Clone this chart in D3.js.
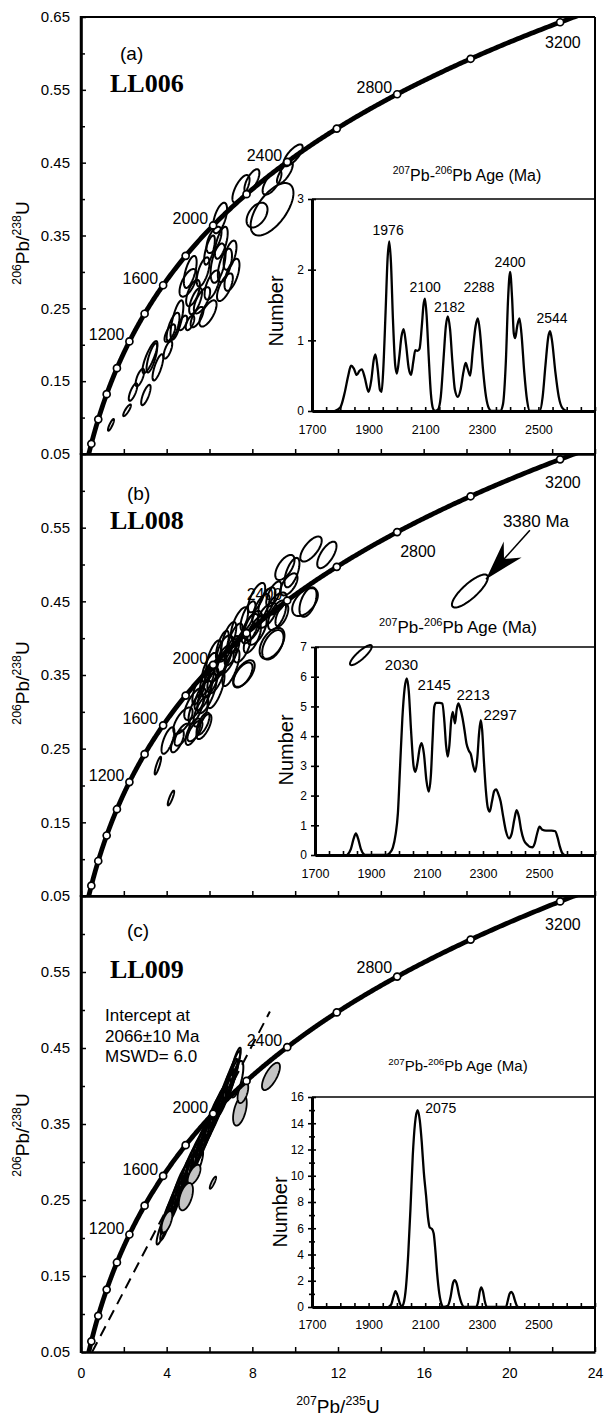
<!DOCTYPE html>
<html><head><meta charset="utf-8">
<script src="https://cdn.jsdelivr.net/npm/d3@7"></script>
<style>body{margin:0;background:#fff}svg{display:block}</style>
</head><body><svg id="chart" width="604" height="1416"></svg>
<script>
// ================= DATA =================
const yTickValues = [0.05, 0.15, 0.25, 0.35, 0.45, 0.55, 0.65];
const yMinorValues = [0.1, 0.2, 0.3, 0.4, 0.5, 0.6];
const xTickValues = [0, 4, 8, 12, 16, 20, 24];
const xMinorValues = [2, 6, 10, 14, 18, 22];
const markerAges = [400, 600, 800, 1000, 1200, 1400, 1600, 1800, 2000, 2200, 2400, 2600, 2800, 3000, 3200];
const labelAges = [1200, 1600, 2000, 2400, 2800, 3200];
const lambda238 = 1.55125e-10, lambda235 = 9.8485e-10;
const insetXLabels = [1700, 1900, 2100, 2300, 2500];

// ellipses: [207Pb/235U, 206Pb/238U, half-range x, half-range y, rho]
const ellipsesA = [
  [9.90,0.460,0.45,0.015,0.75],[9.52,0.436,0.37,0.015,0.75],[7.47,0.414,0.40,0.019,0.68],
  [7.98,0.425,0.35,0.016,0.68],[8.92,0.386,1.00,0.036,0.62],[8.22,0.378,0.49,0.017,0.45],
  [8.92,0.423,0.44,0.017,0.68],[6.49,0.374,0.33,0.021,0.58],[6.21,0.344,0.35,0.018,0.58],
  [6.40,0.312,0.35,0.027,0.50],[6.72,0.309,0.33,0.023,0.58],[6.72,0.279,0.37,0.019,0.68],
  [5.00,0.285,0.40,0.019,0.62],[5.23,0.271,0.32,0.018,0.62],[5.65,0.261,0.38,0.018,0.68],
  [5.93,0.243,0.40,0.018,0.68],[5.42,0.238,0.30,0.014,0.68],[4.48,0.234,0.30,0.027,0.70],
  [4.30,0.224,0.30,0.020,0.68],[4.76,0.230,0.20,0.010,0.60],[5.09,0.230,0.20,0.010,0.60],
  [4.15,0.216,0.25,0.012,0.68],[3.22,0.183,0.35,0.022,0.82],[3.31,0.182,0.25,0.020,0.75],
  [3.59,0.169,0.25,0.018,0.75],[4.06,0.193,0.20,0.012,0.68],[2.75,0.155,0.20,0.012,0.70],
  [2.43,0.135,0.20,0.012,0.75],[3.03,0.131,0.22,0.014,0.75],[2.15,0.110,0.18,0.008,0.85],
  [1.40,0.090,0.14,0.008,0.85],[6.96,0.323,0.30,0.020,0.58],[7.05,0.296,0.35,0.022,0.62],
  [6.12,0.282,0.35,0.020,0.62],[5.70,0.300,0.30,0.020,0.62],[6.00,0.330,0.25,0.020,0.68],
  [5.35,0.260,0.30,0.018,0.68],[5.10,0.300,0.30,0.022,0.62],[6.55,0.340,0.30,0.022,0.62]
];
const ellipsesB = [
  [6.72,0.386,0.37,0.018,0.6],[7.61,0.352,0.50,0.018,0.6],[5.74,0.280,0.35,0.017,0.68],
  [8.92,0.393,0.58,0.021,0.5],[10.46,0.449,0.60,0.019,0.5],[9.52,0.496,0.45,0.017,0.6],
  [9.71,0.473,0.40,0.015,0.6],[10.74,0.521,0.50,0.017,0.68],[11.48,0.513,0.45,0.018,0.68],
  [8.68,0.449,0.40,0.020,0.62],[9.15,0.431,0.42,0.020,0.6],[9.38,0.431,0.30,0.015,0.6],
  [8.03,0.417,0.42,0.020,0.6],[7.89,0.413,0.40,0.020,0.62],[7.05,0.383,0.35,0.020,0.68],
  [6.35,0.352,0.45,0.027,0.7],[5.88,0.325,0.45,0.027,0.7],[5.32,0.311,0.50,0.022,0.68],
  [4.76,0.288,0.45,0.018,0.68],[5.32,0.274,0.35,0.014,0.68],[4.06,0.261,0.30,0.018,0.68],
  [4.72,0.269,0.35,0.015,0.68],[5.23,0.273,0.35,0.018,0.68],[5.70,0.284,0.30,0.015,0.68],
  [5.37,0.304,0.35,0.020,0.68],[5.70,0.322,0.40,0.020,0.68],[6.02,0.340,0.40,0.020,0.68],
  [6.35,0.356,0.40,0.015,0.68],[6.63,0.370,0.40,0.020,0.68],[7.56,0.350,0.45,0.017,0.6],
  [7.52,0.387,0.40,0.020,0.62],[8.22,0.411,0.45,0.020,0.62],[8.68,0.431,0.45,0.017,0.62],
  [9.15,0.447,0.45,0.015,0.62],[8.96,0.391,0.50,0.020,0.5],[9.85,0.489,0.35,0.020,0.62],
  [3.59,0.227,0.15,0.012,0.85],[4.20,0.183,0.15,0.010,0.85],[10.60,0.449,0.40,0.020,0.5],
  [6.00,0.360,0.35,0.020,0.68],[6.60,0.390,0.30,0.020,0.68],[7.20,0.400,0.35,0.020,0.68],
  [7.00,0.360,0.40,0.025,0.72],[6.30,0.330,0.40,0.025,0.72],[5.60,0.300,0.35,0.020,0.68],
  [4.50,0.260,0.30,0.015,0.68],[7.80,0.430,0.35,0.020,0.68],[8.40,0.440,0.40,0.020,0.68],
  [9.00,0.460,0.35,0.017,0.68],[8.00,0.400,0.40,0.020,0.68],[6.80,0.370,0.45,0.020,0.68],
  [6.20,0.375,0.35,0.022,0.68],[6.90,0.400,0.35,0.022,0.68],[7.40,0.420,0.40,0.022,0.68],
  [5.90,0.345,0.35,0.022,0.7],[5.50,0.330,0.30,0.020,0.7],[8.20,0.455,0.40,0.020,0.68],
  [13.07,0.377,0.51,0.0136,0.86],[18.16,0.464,0.84,0.0224,0.82]
];
const ellipsesC = [
  [3.83,0.2135,0.30,0.022,0.88],[4.06,0.2306,0.35,0.025,0.88],[4.25,0.2438,0.35,0.025,0.88],
  [4.44,0.2570,0.35,0.025,0.88],[4.62,0.2702,0.35,0.025,0.88],[4.86,0.2834,0.35,0.025,0.88],
  [5.09,0.2966,0.40,0.027,0.88],[5.32,0.3098,0.40,0.027,0.88],[5.56,0.3230,0.40,0.027,0.88],
  [5.79,0.3361,0.40,0.027,0.88],[6.02,0.3493,0.40,0.027,0.88],[6.21,0.3625,0.40,0.027,0.88],
  [6.40,0.3731,0.40,0.027,0.88],[6.58,0.3823,0.40,0.027,0.88],[6.77,0.3955,0.35,0.027,0.88],
  [6.96,0.4087,0.35,0.027,0.88],[7.14,0.4219,0.30,0.024,0.88],[7.24,0.4324,0.22,0.018,0.85],
  [3.98,0.2170,0.28,0.020,0.9],[4.20,0.2350,0.30,0.022,0.9],[4.55,0.2580,0.30,0.022,0.9],
  [4.95,0.2820,0.30,0.022,0.9],[5.45,0.3100,0.35,0.024,0.9],[5.90,0.3380,0.35,0.024,0.9],
  [6.30,0.3620,0.35,0.024,0.9],[6.70,0.3850,0.33,0.024,0.9],[7.05,0.4100,0.30,0.024,0.9],
  [4.40,0.2450,0.30,0.022,0.9],[5.20,0.2950,0.35,0.024,0.9],[5.70,0.3250,0.35,0.024,0.9],
  [6.10,0.3500,0.35,0.024,0.9],[6.50,0.3750,0.35,0.024,0.9],[6.90,0.3980,0.33,0.024,0.9],
  [7.28,0.4090,0.30,0.024,0.65],[5.32,0.2970,0.38,0.022,0.7]
];
const ellipsesCGrey = [
  [8.87,0.4126,0.42,0.018,0.7],[7.42,0.3678,0.32,0.020,0.5],[7.56,0.3915,0.25,0.014,0.5],
  [5.28,0.2834,0.30,0.013,0.6],[4.90,0.2544,0.33,0.018,0.5],[6.16,0.2728,0.15,0.008,0.85],
  [4.01,0.2214,0.25,0.014,0.6]
];
// discordia (dashed) end points in data units
const discordiaC = [[0.52, 0.05], [8.82, 0.498]];

// 207Pb-206Pb age probability curves: [age (Ma), number]
const pdfA = [[1780,0],[1800,0.05],[1815,0.25],[1828,0.5],[1838,0.64],[1848,0.6],[1858,0.51],[1868,0.57],[1876,0.59],[1886,0.48],[1900,0.27],[1910,0.45],[1918,0.72],[1924,0.80],[1932,0.6],[1940,0.3],[1946,0.27],[1952,0.6],[1960,1.4],[1967,2.15],[1973,2.40],[1979,2.1],[1986,1.3],[1994,0.65],[2000,0.53],[2008,0.75],[2016,1.05],[2024,1.16],[2032,0.95],[2042,0.6],[2050,0.51],[2058,0.7],[2065,0.86],[2073,0.85],[2080,0.88],[2088,1.2],[2094,1.5],[2099,1.59],[2105,1.35],[2112,0.8],[2120,0.25],[2128,0.03],[2135,0],[2145,0.02],[2155,0.2],[2165,0.75],[2173,1.2],[2180,1.34],[2188,1.15],[2196,0.7],[2205,0.3],[2215,0.2],[2225,0.3],[2235,0.55],[2243,0.68],[2250,0.6],[2259,0.5],[2268,0.85],[2278,1.2],[2286,1.31],[2294,1.1],[2304,0.6],[2315,0.2],[2325,0.04],[2335,0],[2365,0],[2375,0.1],[2385,0.7],[2393,1.6],[2400,1.97],[2407,1.6],[2413,1.1],[2418,1.03],[2425,1.2],[2433,1.31],[2440,1.1],[2450,0.55],[2460,0.15],[2470,0],[2505,0],[2515,0.2],[2525,0.65],[2535,1.05],[2541,1.13],[2548,1.0],[2560,0.55],[2572,0.2],[2585,0.04],[2600,0]];
const pdfB = [[1815,0],[1828,0.2],[1838,0.55],[1846,0.73],[1854,0.55],[1864,0.2],[1875,0.02],[1880,0],[1955,0],[1965,0.05],[1978,0.25],[1988,0.7],[1996,1.4],[2004,3.0],[2012,4.6],[2020,5.6],[2028,5.94],[2035,5.5],[2043,4.2],[2052,3.0],[2058,2.8],[2066,3.1],[2074,3.6],[2081,3.76],[2089,3.4],[2098,2.5],[2106,2.13],[2114,2.7],[2120,3.9],[2126,4.99],[2132,5.12],[2145,5.12],[2155,5.1],[2162,4.5],[2168,3.7],[2174,3.31],[2180,3.7],[2186,4.5],[2192,4.82],[2200,4.43],[2206,4.9],[2212,5.10],[2220,4.9],[2227,4.6],[2234,4.2],[2241,3.75],[2250,3.5],[2257,3.38],[2265,3.0],[2272,2.8],[2280,3.3],[2286,4.1],[2292,4.54],[2297,4.2],[2303,3.2],[2310,2.2],[2317,1.6],[2324,1.46],[2332,1.8],[2340,2.15],[2347,2.21],[2355,2.05],[2363,1.8],[2372,1.3],[2382,0.8],[2393,0.56],[2402,0.7],[2412,1.2],[2420,1.51],[2428,1.3],[2436,0.85],[2446,0.5],[2458,0.35],[2468,0.27],[2476,0.26],[2485,0.4],[2494,0.75],[2502,0.95],[2512,0.85],[2525,0.82],[2545,0.82],[2558,0.8],[2566,0.6],[2574,0.3],[2582,0.08],[2590,0]];
const pdfC = [[1970,0],[1980,0.2],[1988,0.8],[1995,1.2],[2002,0.9],[2010,0.3],[2018,0.05],[2024,0.3],[2032,1.5],[2040,4.0],[2048,7.5],[2056,11.5],[2064,14.0],[2073,15.0],[2081,14.2],[2088,12.5],[2095,10.3],[2103,8.5],[2110,6.8],[2116,6.05],[2124,5.95],[2130,5.6],[2136,4.3],[2142,2.6],[2150,1.0],[2158,0.2],[2165,0],[2180,0.1],[2190,0.8],[2198,1.8],[2204,2.05],[2211,1.8],[2220,0.9],[2230,0.2],[2238,0],[2280,0],[2287,0.4],[2293,1.2],[2298,1.5],[2304,1.2],[2311,0.4],[2318,0],[2385,0],[2392,0.5],[2398,1.0],[2404,1.15],[2410,1.0],[2417,0.5],[2425,0.05],[2430,0]];

// peak labels: [text, age, number]
const peaksA = [['1976',1969,2.49],['2100',2100,1.68],['2182',2186,1.40],['2288',2290,1.68],['2400',2400,2.04],['2544',2548,1.245]];
const peaksB = [['2030',2009,6.23],['2145',2126,5.55],['2213',2265,5.22],['2297',2361,4.54]];
const peaksC = [['2075',2155,14.78]];

// ================= LAYOUT =================
const W = 604, H = 1416;
const FONT = "'Liberation Sans', Arial, Helvetica, sans-serif";
const SERIF = "'Liberation Serif', 'Times New Roman', serif";
const X0 = 81, X1 = 595;

const panels = [
  {key:'a', top:17, bottom:454, tag:'(a)', tagPos:[120,60], name:'LL006', namePos:[110,92],
   yLabels: yTickValues, yTitleY:243, above2800:true,
   ellipses: ellipsesA, grey: [], pdf: pdfA, peaks: peaksA, peakSize:14,
   inset:{left:312, top:199, bottom:411, max:3, major:[0,1,2,3], minor:[], titleX:467, titleY:181, titleSize:16, numberX:283, numberY:311, xlabY:14.5}},
  {key:'b', top:454, bottom:896, tag:'(b)', tagPos:[127,500], name:'LL008', namePos:[110,529],
   yLabels: yTickValues.slice(0,6), yTitleY:683, above2800:false,
   ellipses: ellipsesB, grey: [], pdf: pdfB, peaks: peaksB, peakSize:15,
   inset:{left:315, top:647, bottom:855, max:7, major:[0,1,2,3,4,5,6,7], minor:[], titleX:458, titleY:633, titleSize:17, numberX:293, numberY:750, xlabY:14}},
  {key:'c', top:896, bottom:1352, tag:'(c)', tagPos:[127,937], name:'LL009', namePos:[110,978],
   yLabels: yTickValues.slice(0,6), yTitleY:1135, above2800:true,
   ellipses: ellipsesC, grey: ellipsesCGrey, pdf: pdfC, peaks: peaksC, peakSize:14,
   inset:{left:312, top:1097, bottom:1307, max:16, major:[0,2,4,6,8,10,12,14,16], minor:[1,3,5,7,9,11,13,15], titleX:458, titleY:1071, titleSize:15, numberX:287, numberY:1212, xlabY:13}}
];

const svg = d3.select('#chart');
svg.append('rect').attr('width', W).attr('height', H).attr('fill', '#fff');
const x = d3.scaleLinear().domain([0, 24]).range([X0, X1]);

function richText(sel, parts, size, supScale = 0.65, rise = 0.42) {
  let prevSup = false;
  parts.forEach(([t, sup]) => {
    const ts = sel.append('tspan').text(t).attr('font-size', sup ? size * supScale : size);
    if (sup && !prevSup) ts.attr('dy', -size * rise);
    else if (!sup && prevSup) ts.attr('dy', size * rise);
    prevSup = sup;
  });
}

function ellipsePath(e, y) {
  const [cx, cy, sx, sy, r] = e;
  const s = Math.sqrt(1 - r * r);
  const pts = d3.range(0, 73).map(i => {
    const t = i / 72 * 2 * Math.PI;
    return [x(cx + sx * Math.cos(t)), y(cy + sy * (r * Math.cos(t) + s * Math.sin(t)))];
  });
  return d3.line()(pts) + 'Z';
}

const concordia = d3.range(250, 3300, 5).map(t => [Math.exp(lambda235 * t * 1e6) - 1, Math.exp(lambda238 * t * 1e6) - 1]);
const concPoint = t => [Math.exp(lambda235 * t * 1e6) - 1, Math.exp(lambda238 * t * 1e6) - 1];

panels.forEach(p => {
  const y = d3.scaleLinear().domain([0.05, 0.65]).range([p.bottom, p.top]);
  const g = svg.append('g').attr('font-family', FONT);
  const clipId = 'clip-' + p.key;
  svg.append('clipPath').attr('id', clipId).append('rect')
    .attr('x', X0).attr('y', p.top).attr('width', X1 - X0).attr('height', p.bottom - p.top);
  const plot = g.append('g').attr('clip-path', `url(#${clipId})`);

  // ellipses
  plot.selectAll('path.ell').data(p.ellipses).join('path').attr('class', 'ell')
    .attr('d', d => ellipsePath(d, y)).attr('fill', 'none').attr('stroke', '#000').attr('stroke-width', 2);
  plot.selectAll('path.grey').data(p.grey).join('path').attr('class', 'grey')
    .attr('d', d => ellipsePath(d, y)).attr('fill', '#c4c4c4').attr('stroke', '#000').attr('stroke-width', 1.8);

  if (p.key === 'c') {
    plot.append('path').attr('d', d3.line().x(d => x(d[0])).y(d => y(d[1]))(discordiaC))
      .attr('stroke', '#000').attr('stroke-width', 2).attr('stroke-dasharray', '11,7').attr('fill', 'none');
  }

  // concordia
  plot.append('path').attr('d', d3.line().x(d => x(d[0])).y(d => y(d[1])).curve(d3.curveLinear)(concordia))
    .attr('fill', 'none').attr('stroke', '#000').attr('stroke-width', 4.8);
  plot.selectAll('circle.m').data(markerAges).join('circle').attr('class', 'm')
    .attr('cx', t => x(concPoint(t)[0])).attr('cy', t => y(concPoint(t)[1])).attr('r', 3.5)
    .attr('fill', '#fff').attr('stroke', '#000').attr('stroke-width', 1.7);

  // concordia age labels
  labelAges.forEach(t => {
    const [cx, cy] = concPoint(t);
    const px = x(cx), py = y(cy);
    const txt = g.append('text').attr('font-size', 16).text(t);
    if (t === 3200) {
      txt.attr('x', px - 15).attr('y', py + (p.key === 'a' ? 26 : 29)).attr('text-anchor', 'start');
    } else if (t === 2800 && !p.above2800) {
      txt.attr('x', px + 3).attr('y', py + 25).attr('text-anchor', 'start');
    } else {
      txt.attr('x', px - 5).attr('y', py - (t === 2800 && p.key === 'c' ? 4 : 1)).attr('text-anchor', 'end');
    }
  });

  // frame
  g.append('line').attr('x1', X0).attr('x2', X1).attr('y1', p.top).attr('y2', p.top).attr('stroke', '#000').attr('stroke-width', 2);
  g.append('line').attr('x1', X1).attr('x2', X1).attr('y1', p.top).attr('y2', p.bottom).attr('stroke', '#000').attr('stroke-width', 2);

  // y axis
  const yAx = g.append('g').attr('transform', `translate(${X0},0)`)
    .call(d3.axisLeft(y).tickValues(p.yLabels).tickSize(-5).tickSizeOuter(0).tickPadding(11).tickFormat(d3.format('.2f')));
  g.append('g').attr('transform', `translate(${X0},0)`)
    .call(d3.axisLeft(y).tickValues(yMinorValues).tickSize(-4).tickSizeOuter(0).tickFormat(''))
    .select('.domain').remove();
  yAx.select('.domain').attr('stroke-width', 2.5);
  yAx.selectAll('text').attr('font-size', 15).attr('font-family', FONT).attr('fill', '#000');
  g.selectAll('.tick line').attr('stroke-width', 1.5);
  g.append('line').attr('x1', X0).attr('x2', X0).attr('y1', p.top - 1).attr('y2', p.bottom + 1).attr('stroke', '#000').attr('stroke-width', 2.5);

  // x axis
  const xAx = g.append('g').attr('transform', `translate(0,${p.bottom})`)
    .call(d3.axisBottom(x).tickValues(xTickValues.concat(xMinorValues)).tickSize(-5).tickSizeOuter(0).tickPadding(16)
      .tickFormat(d => (p.key === 'c' && xTickValues.includes(d)) ? d : ''));
  xAx.select('.domain').attr('stroke-width', 2.5);
  xAx.selectAll('.tick line').attr('stroke-width', 1.5);
  xAx.selectAll('text').attr('font-size', 14).attr('font-family', FONT).attr('fill', '#000');

  // y title
  const yt = g.append('text').attr('transform', `translate(29,${p.yTitleY}) rotate(-90)`).attr('text-anchor', 'middle');
  richText(yt, [['206', 1], ['Pb/', 0], ['238', 1], ['U', 0]], 19);

  // panel tags
  g.append('text').attr('x', p.tagPos[0]).attr('y', p.tagPos[1]).attr('font-size', 19).text(p.tag);
  g.append('text').attr('x', p.namePos[0]).attr('y', p.namePos[1]).attr('font-size', 26)
    .attr('font-family', SERIF).attr('font-weight', 'bold').text(p.name);

  // ---------- inset ----------
  const I = p.inset;
  const ix = d3.scaleLinear().domain([1700, 2700]).range([I.left, X1]);
  const iy = d3.scaleLinear().domain([0, I.max]).range([I.bottom, I.top]);
  const ig = g.append('g');
  ig.append('line').attr('x1', I.left).attr('x2', X1).attr('y1', I.top).attr('y2', I.top).attr('stroke', '#000').attr('stroke-width', 1.7);

  ig.append('path').datum(p.pdf).attr('d', d3.line().x(d => ix(d[0])).y(d => iy(d[1])).curve(d3.curveMonotoneX))
    .attr('fill', 'none').attr('stroke', '#000').attr('stroke-width', 2.3);

  const ixAx = ig.append('g').attr('transform', `translate(0,${I.bottom})`)
    .call(d3.axisBottom(ix).tickValues(d3.range(1700, 2701, 50)).tickSize(-4).tickSizeOuter(0).tickPadding(I.xlabY)
      .tickFormat(d => insetXLabels.includes(d) ? d : ''));
  ixAx.select('.domain').attr('stroke-width', 3);
  ixAx.selectAll('.tick line').attr('stroke-width', 1.6);
  ixAx.selectAll('text').attr('font-size', 12.5).attr('font-family', FONT).attr('fill', '#000');

  const iyAx = ig.append('g').attr('transform', `translate(${I.left},0)`)
    .call(d3.axisLeft(iy).tickValues(I.major).tickSize(4).tickSizeOuter(0).tickPadding(4).tickFormat(d3.format('d')));
  iyAx.select('.domain').attr('stroke-width', 3);
  iyAx.selectAll('.tick line').attr('stroke-width', 1.6);
  iyAx.selectAll('text').attr('font-size', 12).attr('font-family', FONT).attr('fill', '#000');
  ig.append('g').attr('transform', `translate(${I.left},0)`)
    .call(d3.axisLeft(iy).tickValues(I.major).tickSize(-4).tickSizeOuter(0).tickFormat(''))
    .call(s => { s.select('.domain').remove(); s.selectAll('line').attr('stroke-width', 1.6); });
  if (I.minor.length) {
    ig.append('g').attr('transform', `translate(${I.left},0)`)
      .call(d3.axisLeft(iy).tickValues(I.minor).tickSize(-3).tickSizeOuter(0).tickFormat(''))
      .call(s => { s.select('.domain').remove(); s.selectAll('line').attr('stroke-width', 1.6); });
    ig.append('g').attr('transform', `translate(${I.left},0)`)
      .call(d3.axisLeft(iy).tickValues(I.minor).tickSize(3).tickSizeOuter(0).tickFormat(''))
      .call(s => { s.select('.domain').remove(); s.selectAll('line').attr('stroke-width', 1.6); });
  }

  // inset title
  const it = ig.append('text').attr('x', I.titleX).attr('y', I.titleY).attr('text-anchor', 'middle');
  richText(it, [['207', 1], ['Pb-', 0], ['206', 1], ['Pb Age (Ma)', 0]], I.titleSize);

  ig.append('text').attr('transform', `translate(${I.numberX},${I.numberY}) rotate(-90)`)
    .attr('text-anchor', 'middle').attr('font-size', 20).text('Number');

  ig.selectAll('text.peak').data(p.peaks).join('text').attr('class', 'peak')
    .attr('x', d => ix(d[1])).attr('y', d => iy(d[2])).attr('text-anchor', 'middle')
    .attr('font-size', p.peakSize).text(d => d[0]);

  // panel-specific annotations
  if (p.key === 'b') {
    const tip = [x(18.91), y(0.480)];
    const start = [x(20.96), y(0.5466)];
    g.append('line').attr('x1', start[0]).attr('y1', start[1]).attr('x2', tip[0]).attr('y2', tip[1])
      .attr('stroke', '#000').attr('stroke-width', 1.6);
    const dx = tip[0] - start[0], dy = tip[1] - start[1], L = Math.hypot(dx, dy);
    const u = [dx / L, dy / L], n = [-u[1], u[0]];
    const B = [tip[0] - u[0] * 40, tip[1] - u[1] * 40];
    const N = [tip[0] - u[0] * 27, tip[1] - u[1] * 27];
    const b1 = [B[0] + n[0] * 12, B[1] + n[1] * 12];
    const b2 = [B[0] - n[0] * 12, B[1] - n[1] * 12];
    g.append('path').attr('d', `M${tip}L${b1}L${N}L${b2}Z`).attr('fill', '#000');
    g.append('text').attr('x', x(19.70)).attr('y', y(0.5507)).attr('font-size', 17).text('3380 Ma');
  }
  if (p.key === 'c') {
    const lines = ['Intercept at', '2066\u00B110 Ma', 'MSWD= 6.0'];
    lines.forEach((t, i) => g.append('text').attr('x', 105).attr('y', 1021 + i * 20.5).attr('font-size', 17).text(t));
  }
});

// x title
const xt = svg.append('text').attr('x', (X0 + X1) / 2).attr('y', 1413).attr('text-anchor', 'middle').attr('font-family', FONT);
richText(xt, [['207', 1], ['Pb/', 0], ['235', 1], ['U', 0]], 19);
</script></body></html>
